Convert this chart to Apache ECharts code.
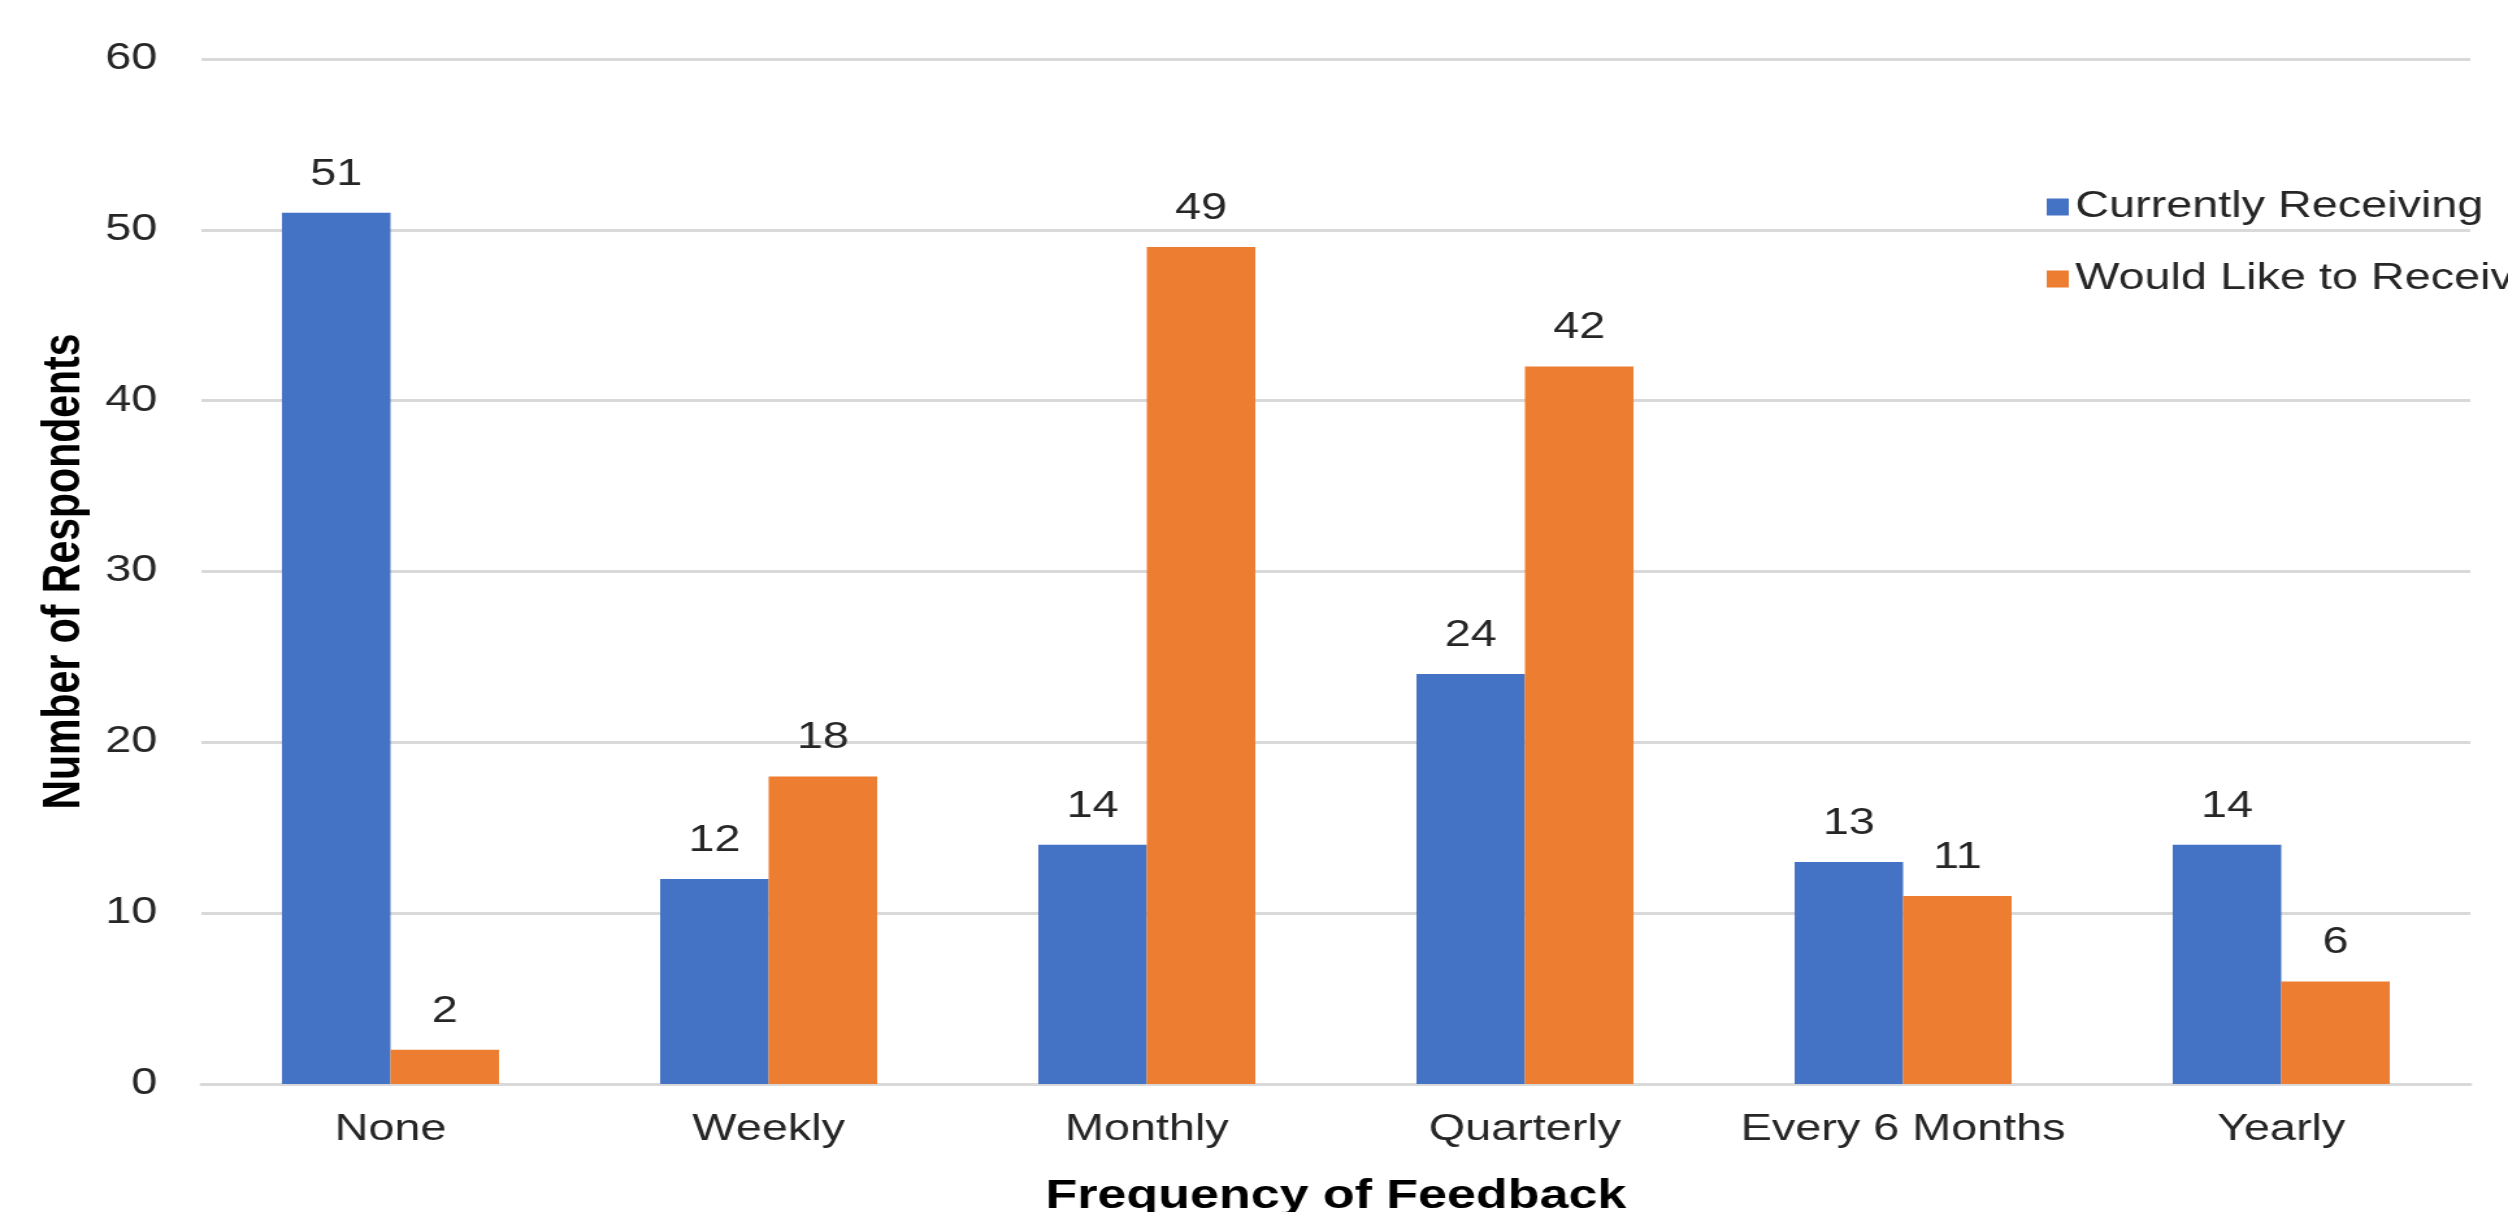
<!DOCTYPE html>
<html>
<head>
<meta charset="utf-8">
<title>Frequency of Feedback</title>
<script src="https://cdn.jsdelivr.net/npm/echarts@6/dist/echarts.min.js"></script>
<style>
  html, body { margin: 0; padding: 0; background: #ffffff; overflow: hidden; }
  /* The chart is laid out at a narrower logical width and widened horizontally. */
  #chart {
    width: 1930px;
    height: 1212px;
    transform: scaleX(1.29948);
    transform-origin: 0 0;
  }
</style>
</head>
<body>
<div id="chart"></div>
<script>
// Feedback frequency categories
const categories = ['None', 'Weekly', 'Monthly', 'Quarterly', 'Every 6 Months', 'Yearly'];

// Respondent counts per series
const currentlyReceiving = [51, 12, 14, 24, 13, 14];
const wouldLikeToReceive = [2, 18, 49, 42, 11, 6];

// Value axis range
const yMin = 0;
const yMax = 60;
const yStep = 10;

const FONT = '"Liberation Sans", Arial, Helvetica, sans-serif';
const TEXT = '#262626';
const GRID = '#d9d9d9';

const chart = echarts.init(document.getElementById('chart'), null, { renderer: 'canvas' });

const labelStyle = {
  show: true,
  position: 'top',
  distance: 20,
  fontFamily: FONT,
  fontSize: 36,
  color: TEXT
};

chart.setOption({
  animation: false,
  backgroundColor: '#ffffff',
  grid: {
    left: 155, right: 29, top: 59, bottom: 128,
    containLabel: false,
    outerBoundsMode: 'none'
  },
  legend: {
    orient: 'vertical',
    left: 1575,
    top: 189,
    padding: 0,
    itemWidth: 17,
    itemHeight: 17,
    itemGap: 36,
    icon: 'rect',
    textStyle: { fontFamily: FONT, fontSize: 36, color: TEXT },
    data: ['Currently Receiving', 'Would Like to Receive']
  },
  xAxis: {
    type: 'category',
    data: categories,
    name: 'Frequency of Feedback',
    nameLocation: 'middle',
    nameGap: 93,
    nameTextStyle: { fontFamily: FONT, fontSize: 40, fontWeight: 'bold', color: '#000000' },
    axisLine: { show: true, lineStyle: { color: GRID, width: 3 } },
    axisTick: { show: false },
    axisLabel: { margin: 28, fontFamily: FONT, fontSize: 36, color: TEXT, interval: 0 }
  },
  yAxis: {
    type: 'value',
    min: yMin,
    max: yMax,
    interval: yStep,
    name: 'Number of Respondents',
    nameLocation: 'middle',
    nameGap: 83,
    nameTextStyle: { fontFamily: FONT, fontSize: 41, fontWeight: 'bold', color: '#000000' },
    axisLine: { show: false },
    axisTick: { show: false },
    axisLabel: { margin: 34, fontFamily: FONT, fontSize: 36, color: TEXT, padding: [9, 0, 0, 0] },
    splitLine: { show: true, lineStyle: { color: GRID, width: 3 } }
  },
  series: [
    {
      name: 'Currently Receiving',
      type: 'bar',
      data: currentlyReceiving,
      barWidth: 83.5,
      barGap: '0%',
      itemStyle: { color: '#4472C4' },
      label: labelStyle
    },
    {
      name: 'Would Like to Receive',
      type: 'bar',
      data: wouldLikeToReceive,
      barWidth: 83.5,
      barGap: '0%',
      itemStyle: { color: '#ED7D31' },
      label: labelStyle
    }
  ]
});
</script>
</body>
</html>
